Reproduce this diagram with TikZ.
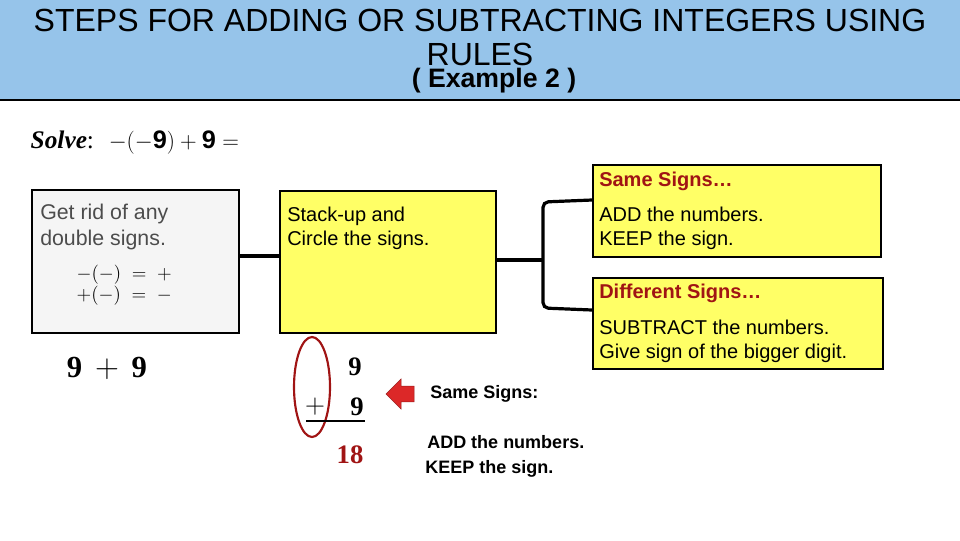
\documentclass[tikz,border=0pt]{standalone}
\usepackage{fontspec}
\setmainfont{Liberation Sans}
\newfontfamily\serifm{Liberation Serif}
\usetikzlibrary{shapes.arrows,shapes.geometric}
\definecolor{hdr}{RGB}{150,196,234}
\definecolor{ylw}{RGB}{255,255,102}
\definecolor{dred}{RGB}{160,20,20}
\definecolor{arr}{RGB}{220,40,40}
\begin{document}
\begin{tikzpicture}[x=0.75pt,y=-0.75pt,
  box/.style={draw=black,line width=1.3pt,anchor=north west,inner sep=0pt},
  con/.style={line width=2.4pt},
  txt/.style={font=\fontsize{15}{18}\selectfont,align=left,anchor=west,inner sep=0pt}]
\useasboundingbox (0,0) rectangle (960,540);
\fill[hdr] (0,0) rectangle (960,100);
\draw[line width=2pt] (0,100) -- (960,100);
\node (t1) at (480,20) {\fontsize{24}{26}\selectfont STEPS FOR ADDING OR SUBTRACTING INTEGERS USING};
\node (t2) at (480,54) {\fontsize{24}{26}\selectfont RULES};
\node (t3) at (494,81) {\fontsize{20}{22}\selectfont\bfseries ( Example 2 )};
\node[anchor=west] (solve) at (26,143) {\fontsize{19}{21}\selectfont\serifm\textbf{\textit{Solve}}: \ $-(-\mathbf{9})+\mathbf{9}=$};
\node[box,fill=gray!8,minimum width=207pt*0.75,minimum height=143pt*0.75] (g) at (31,189) {};
\node[txt,text=gray!60!black,font=\fontsize{16}{19}\selectfont] at (40,227) {Get rid of any\\double signs.};
\node[anchor=west,align=left,font=\fontsize{15}{16}\selectfont] (rules) at (72,285) {$-(-)\;=\;+$\\$+(-)\;=\;-$};
\node[box,fill=ylw,minimum width=216pt*0.75,minimum height=142pt*0.75] (y) at (279,190) {};
\node[txt] at (287,228) {Stack-up and\\Circle the signs.};
\node[box,fill=ylw,minimum width=288pt*0.75,minimum height=92pt*0.75] (r1) at (592,164) {};
\node[txt,text=dred,font=\fontsize{15}{18}\selectfont\bfseries] at (599,181) {Same Signs…};
\node[txt] at (599,228) {ADD the numbers.\\KEEP the sign.};
\node[box,fill=ylw,minimum width=290pt*0.75,minimum height=91pt*0.75] (r2) at (592,277) {};
\node[txt,text=dred,font=\fontsize{15}{18}\selectfont\bfseries] at (599,293) {Different Signs…};
\node[txt] at (599,341) {SUBTRACT the numbers.\\Give sign of the bigger digit.};
\draw[con] (g.east|-0,256) -- (y.west|-0,256);
\coordinate (b1) at (543,260);
\draw[con] (y.east|-b1) -- (b1);
\draw[con,rounded corners=4pt] (r1.west|-0,200) -- (543,202) -- (543,308) -- (r2.west|-0,310);
\node[font=\fontsize{23}{26}\selectfont\serifm\bfseries] at (107,368) {9 \,$+$\, 9};
\node[draw=dred,line width=1.6pt,ellipse,minimum width=36pt*0.75,minimum height=100pt*0.75,inner sep=0pt] (el) at (312,387) {};
\node[font=\fontsize{20}{22}\selectfont\serifm\bfseries] (n1) at (355,367) {9};
\node[font=\fontsize{20}{22}\selectfont\serifm] (pl) at (315,407) {$+$};
\node[font=\fontsize{20}{22}\selectfont\serifm\bfseries] (n2) at (357,407) {9};
\draw[line width=1.6pt] (306,421) -- (365,421);
\node[font=\fontsize{20}{22}\selectfont\serifm\bfseries,text=dred] (res) at (350,455) {18};
\node[single arrow,fill=arr,draw=arr!70!black,shape border rotate=180,minimum width=30pt*0.75,single arrow head extend=2pt,minimum height=28pt*0.75,inner sep=2pt] (ar) at (404,394) {};
\node[txt,font=\fontsize{13.5}{16}\selectfont\bfseries] at (430,394) {Same Signs:};
\node[txt,font=\fontsize{13.5}{16}\selectfont\bfseries] at (427,442) {ADD the numbers.};
\node[txt,font=\fontsize{13.5}{16}\selectfont\bfseries] at (425,469) {KEEP the sign.};
\end{tikzpicture}
\end{document}
